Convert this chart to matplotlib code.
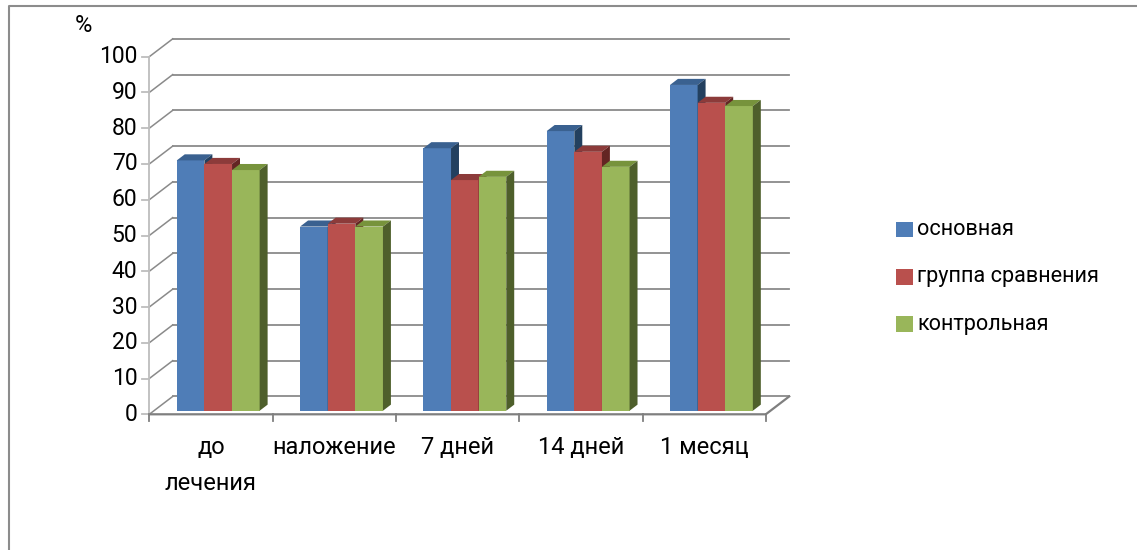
import matplotlib
matplotlib.use("Agg")
import matplotlib.pyplot as plt
from matplotlib.patches import Polygon, Rectangle
from matplotlib.lines import Line2D

plt.rcParams['font.family'] = ['Roboto', 'DejaVu Sans']

# ---- data ----
categories = ["до\nлечения", "наложение", "7 дней", "14 дней", "1 месяц"]
series_names = ["основная", "группа сравнения", "контрольная"]
osnovnaya = [70.0, 51.5, 73.4, 78.2, 91.1]
gruppa_sravneniya = [69.0, 52.3, 64.5, 72.4, 86.1]
kontrolnaya = [67.3, 51.5, 65.4, 68.2, 85.2]
y_ticks = list(range(0, 101, 10))

# face colours: front, top, side
palette = [
    ("#4F7DB7", "#3A6190", "#23405F"),
    ("#B9504D", "#8C3B3A", "#632523"),
    ("#99B65A", "#77933C", "#4E5F2B"),
]

W, H = 1137, 550
fig = plt.figure(figsize=(W / 100, H / 100), dpi=100)
ax = fig.add_axes([0, 0, 1, 1])

# pixel geometry of the plot frame
PX0, PXC = 149.3, 123.3      # left axis x, width of one category
PY0, PYU = 414.3, 3.576      # floor y, pixels per percent
ax.set_xlim((0 - PX0) / PXC, (W - PX0) / PXC)
ax.set_ylim((PY0 - H) / PYU, PY0 / PYU)
ax.axis("off")


def px(xp, yp):
    return (xp - PX0) / PXC, (PY0 - yp) / PYU


n = len(categories)
DX, DY = 0.19, 5.0           # depth of the floor / walls
GRID = "#8A8A8A"

# back wall gridlines and left wall diagonals
for v in y_ticks:
    ax.add_line(Line2D([DX, n + DX], [v + DY, v + DY], color=GRID, lw=1.3, zorder=1))
    ax.add_line(Line2D([0, DX], [v, v + DY], color=GRID, lw=1.1, zorder=1))

# floor edges
ax.add_line(Line2D([0, n, n + DX], [0, 0, DY], color="#7F7F7F", lw=1.6, zorder=1))

# vertical axis line and ticks
ax.add_line(Line2D([0, 0], [0, 100], color="#BDBDBD", lw=1.3, zorder=1))
tick_dx = 7 / PXC
for v in y_ticks:
    ax.add_line(Line2D([-tick_dx, 0], [v, v], color="#BDBDBD", lw=1.3, zorder=1))
    ax.text(-12 / PXC, v, str(v), ha="right", va="center", fontsize=16.5, color="#000000")

# category ticks
tick_dy = 7 / PYU
for i in range(n + 1):
    ax.add_line(Line2D([i, i], [0, -tick_dy], color="#7F7F7F", lw=1.3, zorder=1))

# 3D bars: front faces through ax.bar, top and side faces from the same values
BAR_W = 0.224
LIFT_X, LIFT_Y = 0.2 * DX, 0.2 * DY         # front plane of the bars
DEP_X, DEP_Y = 0.34 * DX, 0.34 * DY         # bar depth
GROUP_OFF = 0.185

all_series = [osnovnaya, gruppa_sravneniya, kontrolnaya]
z = 3
for i in range(n):
    for j, vals in enumerate(all_series):
        front, top, side = palette[j]
        x0 = i + GROUP_OFF + j * BAR_W + LIFT_X
        v = vals[i]
        ax.bar([x0], [v], width=BAR_W, bottom=LIFT_Y, align="edge",
               color=front, edgecolor="none", zorder=z)
        y1 = LIFT_Y + v
        ax.add_patch(Polygon([(x0, y1), (x0 + BAR_W, y1),
                              (x0 + BAR_W + DEP_X, y1 + DEP_Y), (x0 + DEP_X, y1 + DEP_Y)],
                             closed=True, facecolor=top, edgecolor="none", zorder=z))
        ax.add_patch(Polygon([(x0 + BAR_W, LIFT_Y), (x0 + BAR_W + DEP_X, LIFT_Y + DEP_Y),
                              (x0 + BAR_W + DEP_X, y1 + DEP_Y), (x0 + BAR_W, y1)],
                             closed=True, facecolor=side, edgecolor="none", zorder=z))
        z += 1

# category labels, centred under each category
for i, cat in enumerate(categories):
    for k, line in enumerate(cat.split("\n")):
        _, yl = px(0, 447 + 36 * k)
        ax.text(i + 0.5, yl, line, ha="center", va="center", fontsize=17, color="#000000")

# unit label
xp, yp = px(83, 25)
ax.text(xp, yp, "%", ha="center", va="center", fontsize=17, color="#000000")

# legend
for j, name in enumerate(series_names):
    cy = 229.5 + 47.3 * j
    x_l, y_b = px(896, cy + 7.8)
    x_r, y_t = px(912.5, cy - 7.8)
    ax.add_patch(Rectangle((x_l, y_b), x_r - x_l, y_t - y_b,
                           facecolor=palette[j][0], edgecolor="none", zorder=5))
    tx, ty = px(917, cy)
    ax.text(tx, ty, name, ha="left", va="center", fontsize=15.6, color="#000000")

# chart area border
fig.add_artist(Line2D([8.5 / W, 8.5 / W, 1.0], [0.0, 1 - 5.5 / H, 1 - 5.5 / H],
                      transform=fig.transFigure, color="#8C8C8C", lw=1.5))

fig.savefig("out.png", dpi=100)
